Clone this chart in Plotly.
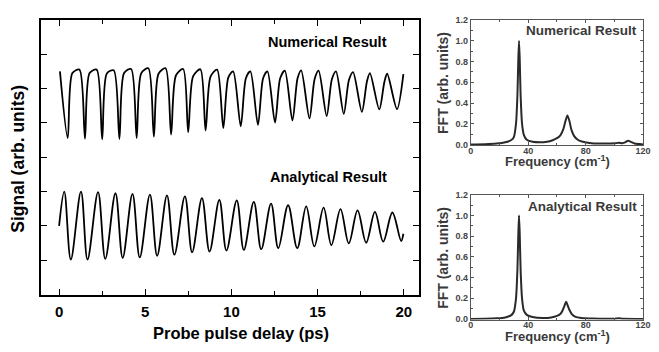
import plotly.graph_objects as go

# ---------------- data ----------------
# Left panel: numerical signal (offset trace around y = 6)
num_start = (0.05, 6.50)
num_end = (19.98, 6.42)
num_dip_t = [0.50, 1.50, 2.50, 3.50, 4.50, 5.50, 6.50, 7.49, 8.50, 9.53,
             10.54, 11.54, 12.53, 13.54, 14.53, 15.53, 16.52, 17.57, 18.58, 19.61]
num_dip_y = [4.56, 4.54, 4.52, 4.53, 4.56, 4.60, 4.66, 4.73, 4.78, 4.85,
             4.90, 4.94, 5.01, 5.07, 5.13, 5.20, 5.26, 5.32, 5.39, 5.40]
num_sh_t = [0.77, 1.77, 2.77, 3.77, 4.77, 5.77, 6.78, 7.78, 8.79, 9.82,
            10.84, 11.84, 12.83, 13.84, 14.83, 15.83, 16.82, 17.87, 18.88]
num_sh_y = [6.45, 6.45, 6.44, 6.45, 6.45, 6.43, 6.38, 6.36, 6.35, 6.32,
            6.30, 6.30, 6.30, 6.30, 6.28, 6.27, 6.25, 6.22, 6.20]
num_pk_t = [1.18, 2.18, 3.17, 4.18, 5.18, 6.18, 7.20, 8.20, 9.17, 10.10,
            11.10, 12.09, 13.10, 14.05, 15.06, 16.07, 17.06, 18.04, 19.04]
num_pk_y = [6.55, 6.55, 6.53, 6.57, 6.59, 6.59, 6.57, 6.56, 6.55, 6.50,
            6.50, 6.50, 6.52, 6.53, 6.52, 6.50, 6.48, 6.45, 6.43]

# Left panel: analytical signal (offset trace around y = 2)
ana_start = (0.0, 2.00)
ana_end = (19.98, 1.77)
ana_pk_t = [0.30, 1.27, 2.26, 3.27, 4.26, 5.27, 6.26, 7.30, 8.29, 9.30,
            10.31, 11.30, 12.30, 13.29, 14.34, 15.35, 16.33, 17.32, 18.33, 19.34]
ana_pk_y = [3.00, 3.00, 2.98, 2.95, 2.93, 2.91, 2.89, 2.86, 2.81, 2.76,
            2.74, 2.70, 2.65, 2.60, 2.57, 2.53, 2.49, 2.45, 2.41, 2.39]
ana_tr_t = [0.68, 1.65, 2.68, 3.69, 4.68, 5.69, 6.69, 7.72, 8.73, 9.71,
            10.72, 11.73, 12.72, 13.82, 14.81, 15.80, 16.81, 17.82, 18.81, 19.85]
ana_tr_y = [1.02, 1.02, 1.04, 1.07, 1.08, 1.13, 1.16, 1.23, 1.25, 1.28,
            1.30, 1.32, 1.35, 1.35, 1.40, 1.44, 1.49, 1.51, 1.54, 1.56]

# Right panels: FFT spectra
fft_num_f = [0, 10, 18, 24, 28, 30, 31.5, 32.5, 33.1, 33.6, 34.1, 34.7, 35.7, 37, 39,
             43, 48, 53, 57, 60, 62.5, 64.5, 66, 67.3, 68.6, 70.1, 72, 74.5, 78, 84,
             95, 100, 103, 105.5, 107.5, 109.5, 111.5, 114, 120]
fft_num_v = [0, 0.002, 0.008, 0.02, 0.04, 0.07, 0.2, 0.48, 0.82, 1.00, 0.82, 0.48, 0.2, 0.09, 0.045,
             0.025, 0.02, 0.025, 0.04, 0.06, 0.09, 0.15, 0.23, 0.28, 0.23, 0.14, 0.08, 0.045, 0.025, 0.012,
             0.008, 0.01, 0.015, 0.012, 0.02, 0.035, 0.025, 0.008, 0]
fft_ana_f = [0, 10, 18, 24, 28, 30, 31.5, 32.5, 33.1, 33.6, 34.1, 34.7, 35.7, 37, 39,
             43, 50, 56, 60, 62.5, 64, 65.3, 66.4, 67.5, 68.8, 70.5, 73, 77, 85,
             100, 103, 106, 120]
fft_ana_v = [0, 0.002, 0.006, 0.015, 0.035, 0.07, 0.2, 0.48, 0.82, 1.00, 0.82, 0.48, 0.2, 0.08, 0.04,
             0.02, 0.01, 0.015, 0.03, 0.05, 0.085, 0.13, 0.167, 0.13, 0.085, 0.045, 0.02, 0.01, 0.004,
             0.003, 0.006, 0.002, 0]

left_xticks = [0, 5, 10, 15, 20]
fft_xticks = [0, 40, 80, 120]

# ---------------- build traces ----------------
num_x = [num_start[0]]
num_y = [num_start[1]]
for i in range(len(num_dip_t)):
    num_x.append(num_dip_t[i]); num_y.append(num_dip_y[i])
    if i < len(num_sh_t):
        num_x.append(num_sh_t[i]); num_y.append(num_sh_y[i])
        num_x.append(num_pk_t[i]); num_y.append(num_pk_y[i])
num_x.append(num_end[0]); num_y.append(num_end[1])

ana_x = [ana_start[0]]
ana_y = [ana_start[1]]
for i in range(len(ana_pk_t)):
    ana_x += [ana_pk_t[i], ana_tr_t[i]]
    ana_y += [ana_pk_y[i], ana_tr_y[i]]
ana_x.append(ana_end[0]); ana_y.append(ana_end[1])

W, H = 659, 352
def px(v): return v / W
def py(v): return 1 - v / H

FONT = "Liberation Sans, Arial, sans-serif"
GRAY = "#3a3a3a"

fig = go.Figure()
fig.add_trace(go.Scatter(x=num_x, y=num_y, mode="lines",
                         line=dict(color="black", width=1.8, shape="spline", smoothing=0.8),
                         xaxis="x", yaxis="y", showlegend=False))
fig.add_trace(go.Scatter(x=ana_x, y=ana_y, mode="lines",
                         line=dict(color="black", width=1.8, shape="spline", smoothing=1.0),
                         xaxis="x", yaxis="y", showlegend=False))
fig.add_trace(go.Scatter(x=fft_num_f, y=fft_num_v, mode="lines",
                         line=dict(color="#2a2a2a", width=2, shape="spline", smoothing=0.6),
                         xaxis="x2", yaxis="y2", showlegend=False))
fig.add_trace(go.Scatter(x=fft_ana_f, y=fft_ana_v, mode="lines",
                         line=dict(color="#2a2a2a", width=2, shape="spline", smoothing=0.6),
                         xaxis="x3", yaxis="y3", showlegend=False))

common_left = dict(showline=True, linecolor="black", linewidth=1.6, mirror="ticks",
                   ticks="inside", tickcolor="black", tickwidth=1.4, ticklen=6,
                   showgrid=False, zeroline=False)
fig.update_layout(
    xaxis=dict(domain=[px(39), px(422.6)], range=[-1.03, 20.86], anchor="y",
               tickvals=left_xticks, ticktext=[str(v) for v in left_xticks],
               minor=dict(tickvals=[2.5, 7.5, 12.5, 17.5], ticks="inside", ticklen=4,
                          tickcolor="black", tickwidth=1.4),
               tickfont=dict(family=FONT, size=15, color="black", weight="bold"),
               ticklabelstandoff=3,
               **common_left),
    yaxis=dict(domain=[py(298), py(15.3)], range=[0, 8], anchor="x", dtick=1,
               showticklabels=False, **common_left),
)

def fft_axes(ydom):
    cx = dict(showline=True, linecolor="#555", linewidth=1, mirror="ticks",
              ticks="inside", tickcolor="#555", tickwidth=1, ticklen=3,
              showgrid=False, zeroline=False,
              tickfont=dict(family=FONT, size=9, color="#444", weight="bold"))
    xa = dict(domain=[px(475.7), px(651)], range=[0, 120],
              tickvals=fft_xticks, ticktext=[str(v) for v in fft_xticks],
              ticklabelstandoff=-3,
              minor=dict(tickvals=[20, 60, 100], ticks="inside", ticklen=2, tickcolor="#555"), **cx)
    ya = dict(domain=ydom, range=[-0.005, 1.2], dtick=0.2, tickformat=".1f",
              minor=dict(dtick=0.1, ticks="inside", ticklen=2, tickcolor="#555"), **cx)
    return xa, ya

xa2, ya2 = fft_axes([py(144), py(15.7)])
xa3, ya3 = fft_axes([py(323.7), py(195.5)])
xa2["anchor"] = "y2"; ya2["anchor"] = "x2"
xa3["anchor"] = "y3"; ya3["anchor"] = "x3"
fig.update_layout(xaxis2=xa2, yaxis2=ya2, xaxis3=xa3, yaxis3=ya3)

ann = []
def A(text, x, y, size, color="black", angle=0, xanchor="center"):
    ann.append(dict(text=text, x=px(x), y=py(y), xref="paper", yref="paper",
                    showarrow=False, textangle=angle, xanchor=xanchor, yanchor="middle",
                    font=dict(family=FONT, size=size, color=color, weight="bold")))

A("Numerical Result", 393, 38, 14.5, xanchor="right")
A("Analytical Result", 393, 177.5, 14.5, xanchor="right")
A("Signal (arb. units)", 15, 158.5, 17.5, angle=-90)
A("Probe pulse delay (ps)", 242, 338, 16.5)
A("FFT (arb. units)", 446.7, 80, 14, color=GRAY, angle=-90)
A("Frequency (cm<sup>-1</sup>)", 564, 161, 13, color=GRAY)
A("Numerical Result", 647, 26.7, 13.5, color=GRAY, xanchor="right")
A("FFT (arb. units)", 446.7, 260, 14, color=GRAY, angle=-90)
A("Frequency (cm<sup>-1</sup>)", 564, 341, 13, color=GRAY)
A("Analytical Result", 647, 207.7, 13.5, color=GRAY, xanchor="right")

fig.update_layout(annotations=ann, width=W, height=H,
                  margin=dict(l=0, r=0, t=0, b=0),
                  paper_bgcolor="white", plot_bgcolor="white",
                  font=dict(family=FONT))
fig.write_html("out.html", config={"displayModeBar": False, "displaylogo": False},
               post_script="document.body.style.margin='0';document.body.style.padding='0';")
